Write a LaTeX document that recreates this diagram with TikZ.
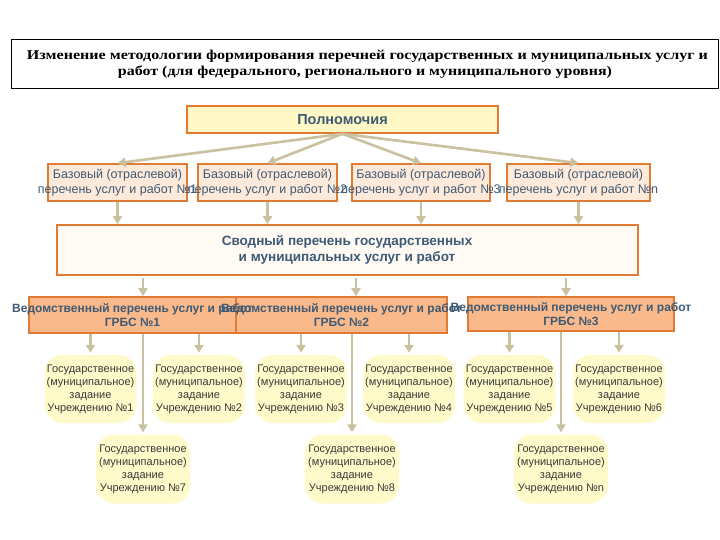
\documentclass[tikz,border=0pt]{standalone}
\usepackage{fontspec}
\setmainfont{Liberation Sans}
\newfontfamily\titleserif{Liberation Serif}
\usetikzlibrary{arrows.meta}
\definecolor{orangeB}{HTML}{E07B34}
\definecolor{arrowC}{HTML}{C9C1A0}
\definecolor{txtB}{HTML}{3E5A74}
\definecolor{fillY}{HTML}{FFF8C6}
\definecolor{fillP}{HTML}{FDEADB}
\definecolor{fillS}{HTML}{FFFAF4}
\definecolor{fillG}{HTML}{F9B98A}
\definecolor{fillL}{HTML}{FFFACA}
\definecolor{leafT}{HTML}{3A3A3A}
\begin{document}
\begin{tikzpicture}[x=1pt,y=-1pt,
  box/.style={draw=orangeB,line width=1.6pt,inner sep=0pt},
  arr/.style={draw=arrowC,line width=2.6pt,-{Triangle[width=9pt,length=8pt]}},
  basetxt/.style={text=txtB,font=\fontsize{12.5}{15}\selectfont,align=center,inner sep=0pt},
  grbstxt/.style={text=txtB,font=\fontsize{12}{14}\selectfont\bfseries,align=center,inner sep=0pt},
  leaf/.style={fill=fillL,rounded corners=18pt,minimum width=92pt,minimum height=68pt,inner sep=0pt,
    text=leafT,font=\fontsize{11}{13}\selectfont,align=center},
  leafb/.style={leaf,minimum width=94pt,minimum height=69pt}
]
\useasboundingbox (0,0) rectangle (720,540);
\fill[white] (0,0) rectangle (720,540);

% title
\node[draw=black,line width=0.8pt,minimum width=707pt,minimum height=49pt,inner sep=0pt] (title) at (364.5,63.5) {};
\node[inner sep=0pt] (t1) at (367.5,56.5) {\resizebox{681pt}{\height}{\titleserif\bfseries\fontsize{13.5}{16}\selectfont Изменение методологии формирования перечней государственных и муниципальных услуг и}};
\node[inner sep=0pt] (t2) at (365,72.5) {\resizebox{494pt}{\height}{\titleserif\bfseries\fontsize{13.5}{16}\selectfont работ (для федерального, регионального и муниципального уровня)}};

% Полномочия
\node[box,fill=fillY,minimum width=311pt,minimum height=27pt,text=txtB,font=\fontsize{14.5}{17}\selectfont\bfseries] (pol) at (342.5,119.5) {Полномочия};

% base lists
\node[box,fill=fillP,minimum width=139pt,minimum height=37pt] (b1) at (117.5,182.5) {};
\node[box,fill=fillP,minimum width=139pt,minimum height=37pt] (b2) at (267.5,182.5) {};
\node[box,fill=fillP,minimum width=138pt,minimum height=37pt] (b3) at (421,182.5) {};
\node[box,fill=fillP,minimum width=143pt,minimum height=37pt] (b4) at (578.5,182.5) {};
\node[basetxt] (bt1) at (b1) {Базовый (отраслевой)\\перечень услуг и работ №1};
\node[basetxt] (bt2) at (b2) {Базовый (отраслевой)\\перечень услуг и работ №2};
\node[basetxt] (bt3) at (b3) {Базовый (отраслевой)\\перечень услуг и работ №3};
\node[basetxt] (bt4) at (b4) {Базовый (отраслевой)\\перечень услуг и работ №n};

\foreach \b in {b1,b2,b3,b4}{\draw[arr] (pol.south) -- (\b.north);}

% Сводный
\node[box,fill=fillS,minimum width=581pt,minimum height=50pt] (svod) at (347.5,250) {};
\node[text=txtB,font=\fontsize{13.5}{16}\selectfont\bfseries,align=center,inner sep=0pt] (svt) at (347,250) {Сводный перечень государственных\\и муниципальных услуг и работ};
\foreach \b in {b1,b2,b3,b4}{\draw[arr] (\b.south) -- (\b.south |- svod.north);}

% ГРБС
\node[box,fill=fillG,minimum width=207pt,minimum height=36pt] (g1) at (132.5,315) {};
\node[box,fill=fillG,minimum width=211pt,minimum height=36pt] (g2) at (341.5,315) {};
\node[box,fill=fillG,minimum width=206pt,minimum height=34pt] (g3) at (571,314) {};
\node[grbstxt] (gt1) at (132.5,315.5) {Ведомственный перечень услуг и работ\\ГРБС №1};
\node[grbstxt] (gt2) at (341.5,315.5) {Ведомственный перечень услуг и работ\\ГРБС №2};
\node[grbstxt] (gt3) at (571,314.5) {Ведомственный перечень услуг и работ\\ГРБС №3};

\coordinate (s1) at (143,278);
\coordinate (s2) at (356,278);
\coordinate (s3) at (566,278);
\draw[arr] (s1) -- (s1 |- g1.north);
\draw[arr] (s2) -- (s2 |- g2.north);
\draw[arr] (s3) -- (s3 |- g3.north);

% leaves row 1
\node[leaf] (L1) at (90.5,389) {Государственное\\(муниципальное)\\задание\\Учреждению №1};
\node[leaf] (L2) at (199,389) {Государственное\\(муниципальное)\\задание\\Учреждению №2};
\node[leaf] (L3) at (301,389) {Государственное\\(муниципальное)\\задание\\Учреждению №3};
\node[leaf] (L4) at (409,389) {Государственное\\(муниципальное)\\задание\\Учреждению №4};
\node[leaf] (L5) at (509.5,389) {Государственное\\(муниципальное)\\задание\\Учреждению №5};
\node[leaf] (L6) at (619,389) {Государственное\\(муниципальное)\\задание\\Учреждению №6};
% leaves row 2
\node[leafb] (L7) at (143,469) {Государственное\\(муниципальное)\\задание\\Учреждению №7};
\node[leafb] (L8) at (352,469) {Государственное\\(муниципальное)\\задание\\Учреждению №8};
\node[leafb] (Ln) at (561,469) {Государственное\\(муниципальное)\\задание\\Учреждению №n};

\draw[arr,shorten >=2pt] (L1.north |- g1.south) -- (L1.north);
\draw[arr,shorten >=2pt] (L2.north |- g1.south) -- (L2.north);
\draw[arr,shorten >=2pt] (L3.north |- g2.south) -- (L3.north);
\draw[arr,shorten >=2pt] (L4.north |- g2.south) -- (L4.north);
\draw[arr,shorten >=2pt] (L5.north |- g3.south) -- (L5.north);
\draw[arr,shorten >=2pt] (L6.north |- g3.south) -- (L6.north);
\draw[arr,shorten >=2pt] (L7.north |- g1.south) -- (L7.north);
\draw[arr,shorten >=2pt] (L8.north |- g2.south) -- (L8.north);
\draw[arr,shorten >=2pt] (Ln.north |- g3.south) -- (Ln.north);
\end{tikzpicture}
\end{document}
